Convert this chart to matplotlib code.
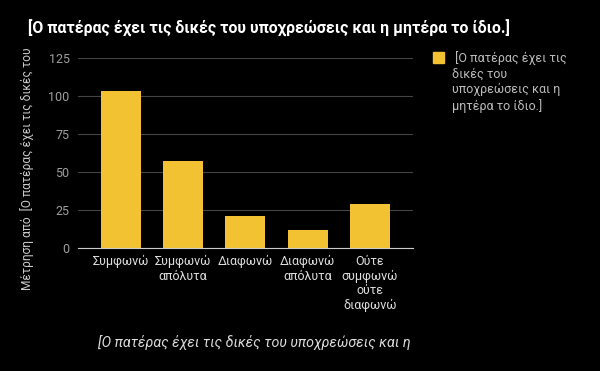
import matplotlib
matplotlib.use("Agg")
import matplotlib.pyplot as plt

categories = ["Συμφωνώ", "Συμφωνώ\nαπόλυτα", "Διαφωνώ", "Διαφωνώ\nαπόλυτα", "Ούτε\nσυμφωνώ\nούτε\nδιαφωνώ"]
values = [103, 57, 21, 12, 29]
yticks = [0, 25, 50, 75, 100, 125]
title = "[Ο πατέρας έχει τις δικές του υποχρεώσεις και η μητέρα το ίδιο.]"
legend_label = " [Ο πατέρας έχει τις\nδικές του\nυποχρεώσεις και η\nμητέρα το ίδιο.]"
ylabel = "Μέτρηση από  [Ο πατέρας έχει τις δικές του"
xlabel = "[Ο πατέρας έχει τις δικές του υποχρεώσεις και η"

plt.rcParams['font.family'] = ['Roboto', 'DejaVu Sans']
bar_color = "#f2c233"

fig = plt.figure(figsize=(6, 3.71), dpi=100, facecolor="black")
ax = fig.add_axes([0.13, 0.3315, 0.558, 0.5122], facecolor="black")

x = list(range(len(categories)))
ax.bar(x, values, width=0.64, color=bar_color, zorder=3)
ax.set_xlim(-0.69, 4.69)
ax.set_ylim(0, 125)
ax.set_yticks(yticks)
ax.set_yticklabels([str(t) for t in yticks], color="#9e9e9e", fontsize=9)
ax.set_xticks(x)
ax.set_xticklabels(categories, color="#dddddd", fontsize=9, linespacing=1.15)
ax.tick_params(axis='both', length=0, pad=6)
ax.tick_params(axis='x', pad=5)
ax.yaxis.grid(True, color="#444444", linewidth=0.8, zorder=0)
for s in ["top", "right", "left"]:
    ax.spines[s].set_visible(False)
ax.spines["bottom"].set_color("#cccccc")
ax.spines["bottom"].set_zorder(4)

fig.text(28/600, 1 - 28/371, title, color="white", fontsize=11.4, fontweight="bold",
         ha="left", va="center")
fig.text(27/600, 1 - 169/371, ylabel, color="#cccccc", fontsize=8.6, rotation=90,
         ha="center", va="center")
fig.text(98/600, 1 - 343/371, xlabel, color="#dddddd", fontsize=10.3, style="italic",
         ha="left", va="center")

# legend
fig.patches.append(plt.Rectangle((433/600, 1 - 63/371), 11/600, 11/371,
                                 transform=fig.transFigure, color=bar_color))
fig.text(452/600, 1 - 51/371, legend_label, color="#bbbbbb", fontsize=9,
         ha="left", va="top", linespacing=1.25)

fig.savefig("out.png", dpi=100, facecolor="black")
